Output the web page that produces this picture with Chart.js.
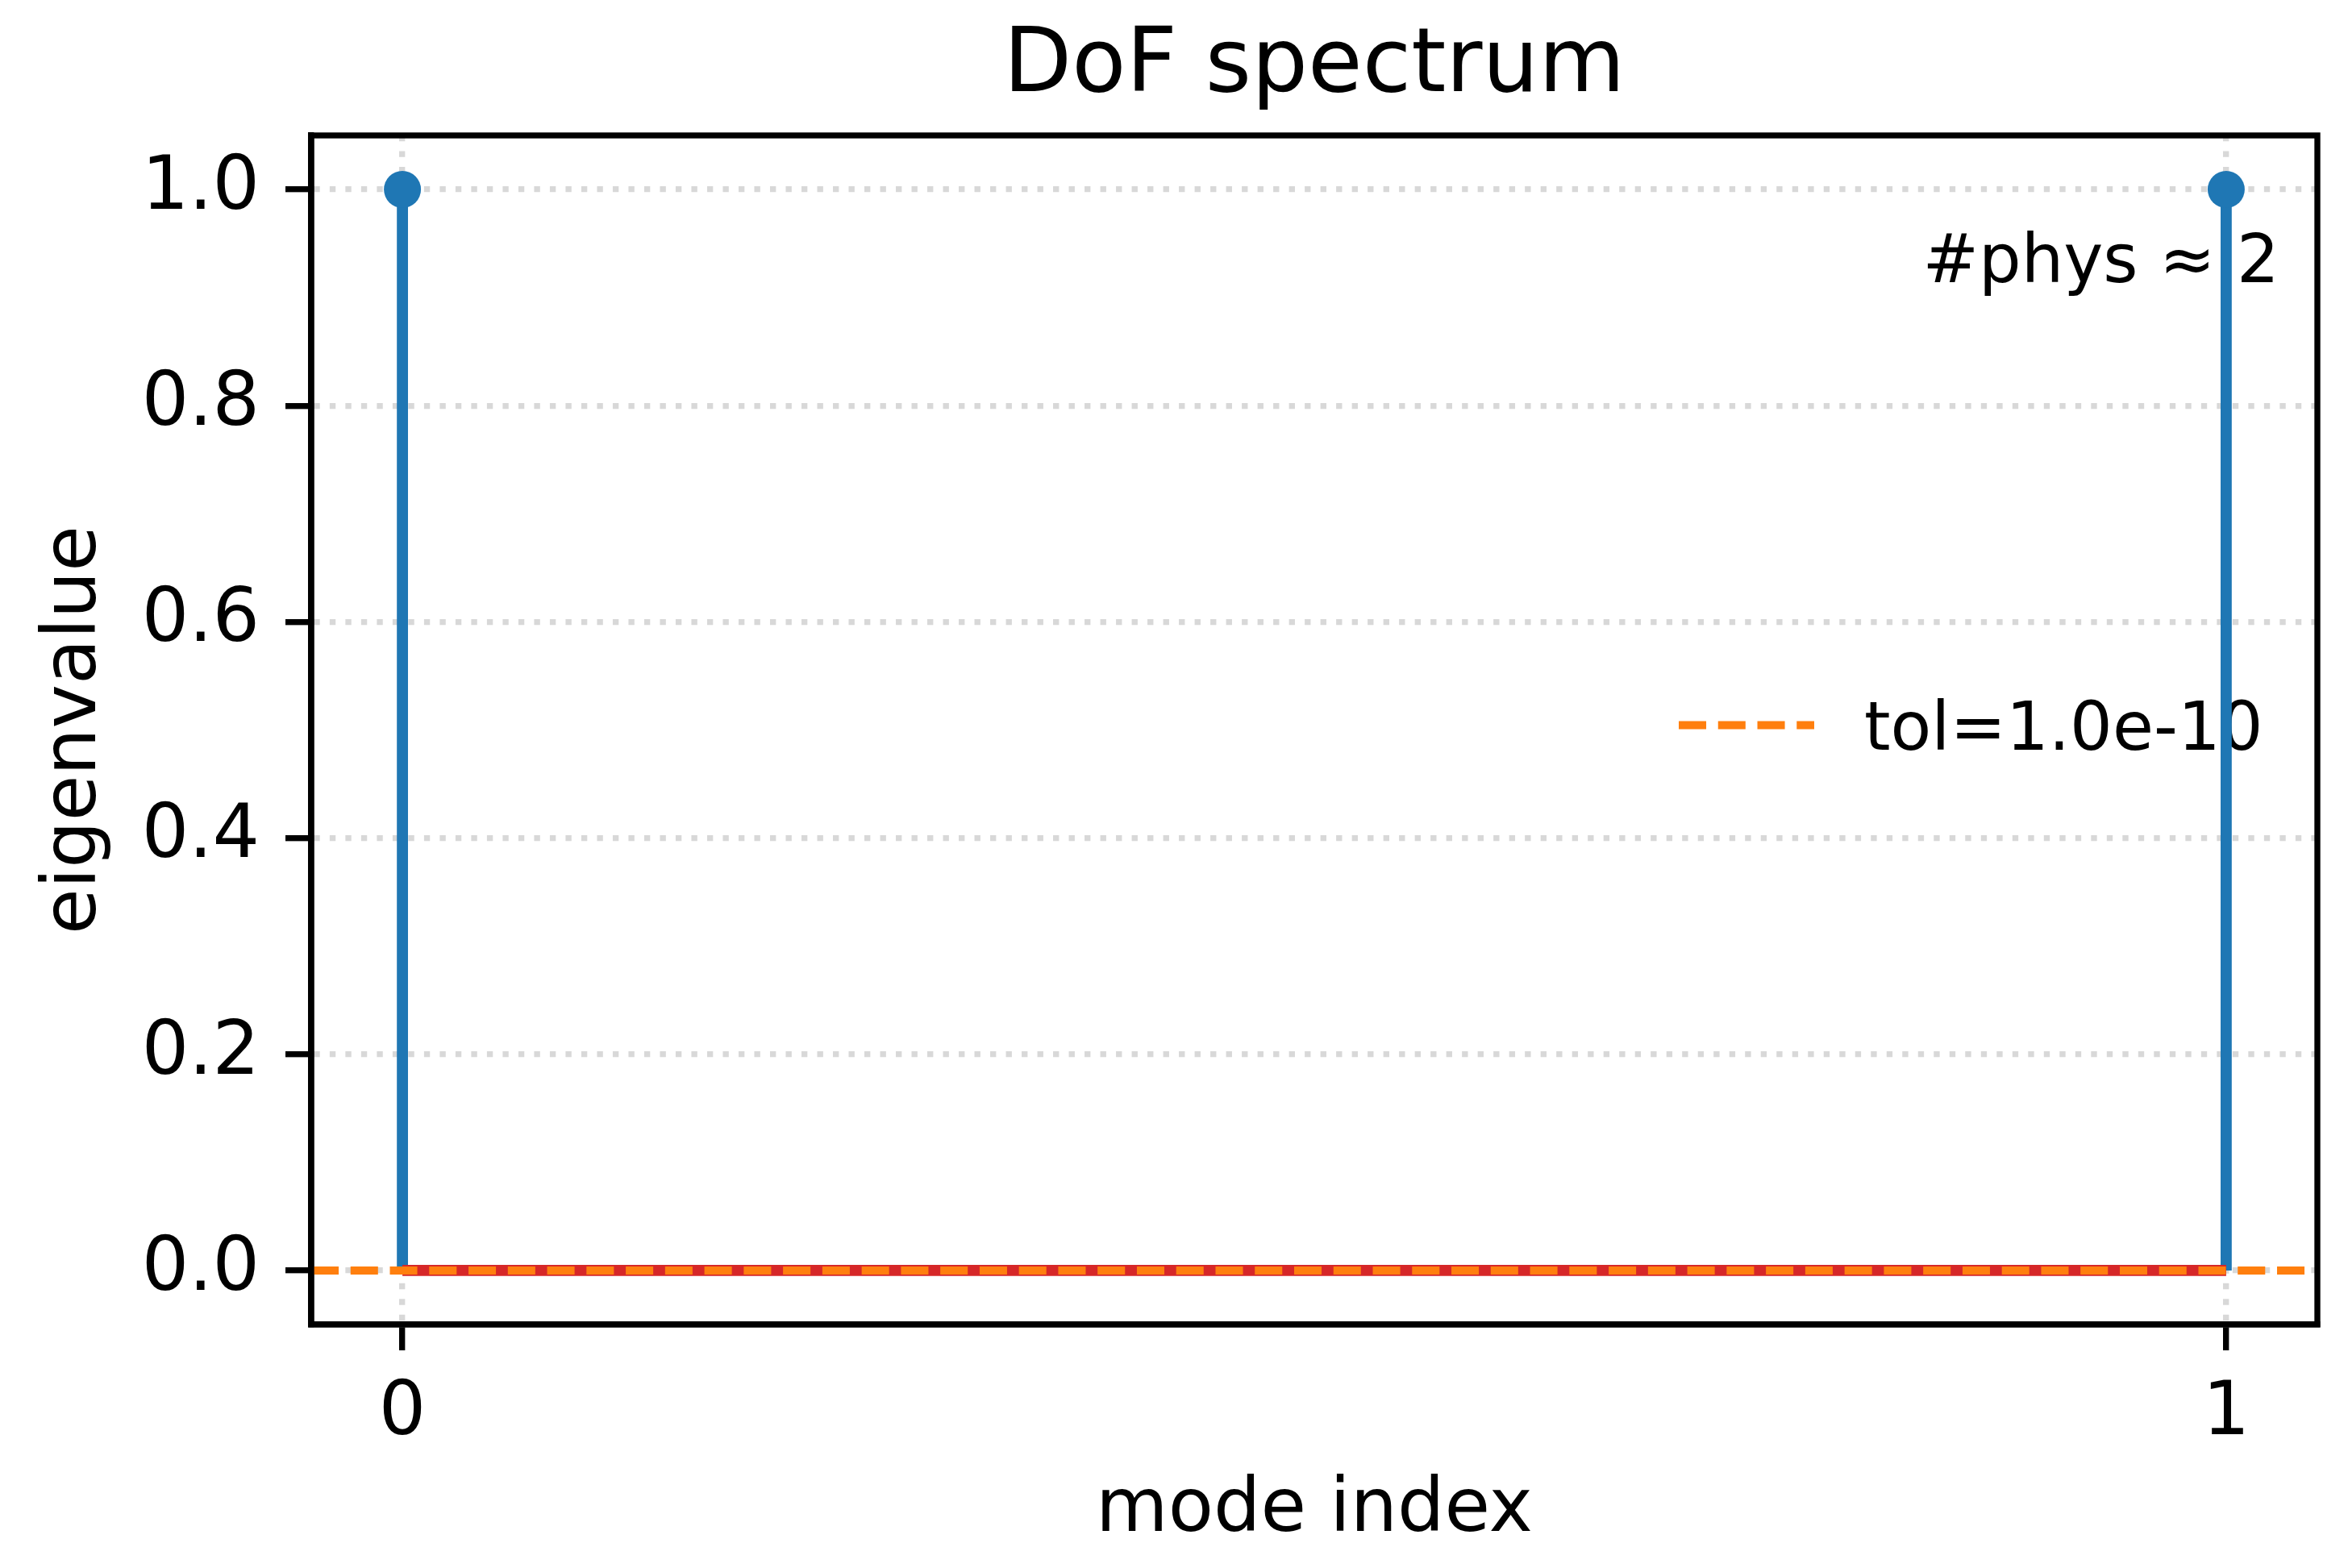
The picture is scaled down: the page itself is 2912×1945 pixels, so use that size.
<!DOCTYPE html>
<html>
<head>
<meta charset="utf-8">
<script src="https://cdn.jsdelivr.net/npm/chart.js@4.4.1/dist/chart.umd.min.js"></script>
<style>
  html, body { margin: 0; padding: 0; background: #fff; }
  #wrap { width: 2912px; height: 1945px; }
</style>
</head>
<body>
<div id="wrap"><canvas id="dof-chart" width="2912" height="1945"></canvas></div>
<script>
// Spectrum data
var modeIndex = [0, 1];
var eigenvalues = [1.0, 1.0];
var tol = 1.0e-10;
var physCount = 2;
var yTickValues = [0.0, 0.2, 0.4, 0.6, 0.8, 1.0];
var xTickValues = [0, 1];

var blue = '#1f77b4', orange = '#ff7f0e', red = '#d62728';
var font = 'DejaVu Sans';
var pt = 9.2; // pixels per point at this size

// matplotlib-like 5% margins
function padRange(lo, hi) {
  var span = hi - lo;
  return [lo - 0.05 * span, hi + 0.05 * span];
}
var xRange = padRange(Math.min.apply(null, modeIndex), Math.max.apply(null, modeIndex));
var yRange = padRange(Math.min(0, Math.min.apply(null, eigenvalues)), Math.max.apply(null, eigenvalues));

// one small line dataset per stem
var stems = modeIndex.map(function (m, i) {
  return {
    type: 'line',
    data: [{ x: m, y: 0 }, { x: m, y: eigenvalues[i] }],
    borderColor: blue,
    borderWidth: 1.5 * pt,
    pointRadius: 0,
    order: 4
  };
});

var datasets = [
  {
    type: 'line',
    label: 'tol=' + tol.toExponential(1),
    showInLegend: true,
    data: [{ x: xRange[0], y: tol }, { x: xRange[1], y: tol }],
    borderColor: orange,
    borderWidth: 1.1 * pt,
    borderDash: [3.7 * pt, 1.6 * pt],
    pointRadius: 0,
    order: 0
  },
  {
    type: 'line',
    data: [{ x: modeIndex[0], y: 0 }, { x: modeIndex[modeIndex.length - 1], y: 0 }],
    borderColor: red,
    borderWidth: 1.5 * pt,
    pointRadius: 0,
    order: 1
  },
  {
    type: 'scatter',
    data: modeIndex.map(function (m, i) { return { x: m, y: eigenvalues[i] }; }),
    backgroundColor: blue,
    borderWidth: 0,
    pointRadius: 23,
    order: 2
  }
].concat(stems);

// full box around the plot area
var frameBox = {
  id: 'frameBox',
  afterDatasetsDraw: function (chart) {
    var a = chart.chartArea, ctx = chart.ctx;
    ctx.save();
    ctx.strokeStyle = '#000';
    ctx.lineWidth = 0.8 * pt;
    ctx.strokeRect(a.left, a.top, a.right - a.left, a.bottom - a.top);
    ctx.restore();
  }
};

// title centred over the axes, legend entry and count note inside the axes
var insideText = {
  id: 'insideText',
  beforeDatasetsDraw: function (chart) {
    var a = chart.chartArea, ctx = chart.ctx;
    var w = a.right - a.left, h = a.bottom - a.top;
    var ds = chart.data.datasets.find(function (d) { return d.showInLegend; });
    var ly = a.top + h / 2 - 6;
    ctx.save();
    ctx.fillStyle = '#000';
    ctx.font = '110px "' + font + '"';
    ctx.textAlign = 'center';
    ctx.textBaseline = 'middle';
    ctx.fillText('DoF spectrum', (a.left + a.right) / 2, 84);

    ctx.strokeStyle = ds.borderColor;
    ctx.lineWidth = ds.borderWidth;
    ctx.setLineDash(ds.borderDash);
    ctx.beginPath();
    ctx.moveTo(a.right - 792, ly);
    ctx.lineTo(a.right - 624, ly);
    ctx.stroke();
    ctx.setLineDash([]);
    ctx.font = '83px "' + font + '"';
    ctx.textBaseline = 'alphabetic';
    ctx.textAlign = 'left';
    ctx.fillText(ds.label, a.right - 562, ly + 30);
    ctx.textAlign = 'right';
    ctx.fillText('#phys \u2248 ' + physCount, a.right - 0.019 * w, a.top + 0.1235 * h);
    ctx.restore();
  }
};

var ctx = document.getElementById('dof-chart').getContext('2d');
var myChart = new Chart(ctx, {
  type: 'scatter',
  data: { datasets: datasets },
  plugins: [insideText, frameBox],
  options: {
    responsive: false,
    animation: false,
    devicePixelRatio: 1,
    layout: { padding: { left: 0, right: 38, top: 168, bottom: 0 } },
    scales: {
      x: {
        type: 'linear',
        min: xRange[0],
        max: xRange[1],
        afterBuildTicks: function (s) { s.ticks = xTickValues.map(function (v) { return { value: v }; }); },
        afterFit: function (s) { s.height = 302; },
        ticks: {
          color: '#000',
          font: { family: font, size: 92 },
          padding: 25,
          callback: function (v) { return String(v); }
        },
        grid: { color: '#d8d8d8', lineWidth: 0.8 * pt, tickColor: '#000', tickWidth: 0.8 * pt, tickLength: 32 },
        border: { color: '#000', width: 0.8 * pt, dash: [0.8 * pt, 1.32 * pt] },
        title: { display: true, text: 'mode index', color: '#000', font: { family: font, size: 92 }, padding: { top: 0, bottom: 15 } }
      },
      y: {
        type: 'linear',
        min: yRange[0],
        max: yRange[1],
        afterBuildTicks: function (s) { s.ticks = yTickValues.map(function (v) { return { value: v }; }); },
        afterFit: function (s) { s.width = 386; },
        ticks: {
          color: '#000',
          font: { family: font, size: 92 },
          padding: 32,
          callback: function (v) { return v.toFixed(1); }
        },
        grid: { color: '#d8d8d8', lineWidth: 0.8 * pt, tickColor: '#000', tickWidth: 0.8 * pt, tickLength: 32 },
        border: { color: '#000', width: 0.8 * pt, dash: [0.8 * pt, 1.32 * pt] },
        title: { display: true, text: 'eigenvalue', color: '#000', font: { family: font, size: 92 }, padding: { top: 39, bottom: 0 } }
      }
    },
    plugins: {
      legend: { display: false },
      tooltip: { enabled: false },
      title: { display: false }
    }
  }
});
</script>
</body>
</html>
